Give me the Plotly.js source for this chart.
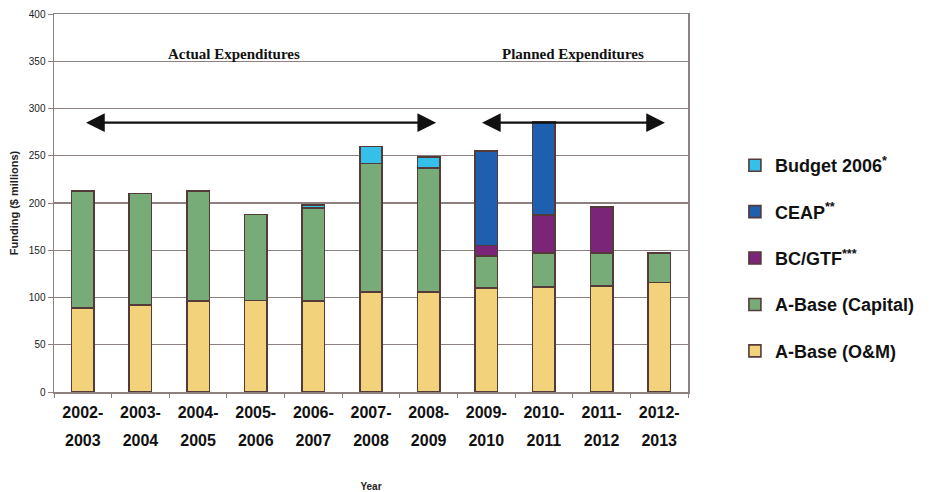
<!DOCTYPE html>
<html>
<head>
<meta charset="utf-8">
<script src="https://cdn.plot.ly/plotly-3.0.1.min.js"></script>
<style>html,body{margin:0;padding:0;background:#fff;}#chart{width:932px;height:492px;}</style>
</head>
<body>
<div id="chart"></div>
<script>
// ---- data ----
const years = ['2002-2003','2003-2004','2004-2005','2005-2006','2006-2007','2007-2008','2008-2009','2009-2010','2010-2011','2011-2012','2012-2013'];
const startLabels = ['2002-','2003-','2004-','2005-','2006-','2007-','2008-','2009-','2010-','2011-','2012-'];
const endLabels = ['2003','2004','2005','2006','2007','2008','2009','2010','2011','2012','2013'];
const aBaseOM = [89, 92, 96, 97, 96, 106, 106, 110, 111, 112, 116];
const aBaseCapital = [124, 118, 117, 91, 99, 136, 131, 34, 36, 35, 31];
const bcGtf = [null, null, null, null, null, null, null, 11, 40, 49, null];
const ceap = [null, null, null, null, null, null, null, 100, 99, null, null];
const budget2006 = [null, null, null, null, 3, 18, 12, null, null, null, null];
const seriesNames = ['A-Base (O&M)', 'A-Base (Capital)', 'BC/GTF<sup>***</sup>', 'CEAP<sup>**</sup>', 'Budget 2006<sup>*</sup>'];
const seriesColors = ['#F3D27C', '#77AB77', '#7A2578', '#1F5FB0', '#35C0EA'];
const seriesValues = [aBaseOM, aBaseCapital, bcGtf, ceap, budget2006];

const outline = '#553a3a';
const grid = '#8f8080';

const traces = seriesValues.map((vals, i) => ({
  type: 'bar',
  x: years,
  y: vals,
  name: seriesNames[i],
  legendgroup: 'g' + i,
  legendrank: seriesValues.length - i,
  marker: {color: seriesColors[i], line: {color: outline, width: 1.6}},
  width: 0.39,
  hoverinfo: 'x+y+name'
}));
// invisible helper trace for second line of tick labels
traces.push({type: 'bar', x: years, y: years.map(() => null), xaxis: 'x2', yaxis: 'y', showlegend: false, hoverinfo: 'skip'});

const tickFont = {size: 16, family: 'Arial, Liberation Sans, sans-serif', weight: 'bold', color: '#111'};

const layout = {
  width: 932, height: 492,
  margin: {l: 54, r: 235, t: 14, b: 100},
  paper_bgcolor: '#fff', plot_bgcolor: '#fff',
  barmode: 'stack',
  showlegend: true,
  font: {family: 'Arial, Liberation Sans, sans-serif', color: '#111'},
  xaxis: {
    type: 'category',
    categoryarray: years,
    tickmode: 'array', tickvals: years, ticktext: startLabels,
    tickfont: tickFont, ticklabelstandoff: 5,
    ticks: 'outside', tickson: 'boundaries', ticklen: 4, tickcolor: grid,
    showline: true, linecolor: grid, linewidth: 1.5, mirror: true,
    showgrid: false, zeroline: false,
    title: {text: 'Year', font: {size: 10, weight: 'bold', color: '#222'}, standoff: 68}
  },
  xaxis2: {
    type: 'category', overlaying: 'x', anchor: 'y', side: 'bottom', matches: 'x',
    categoryarray: years,
    tickmode: 'array', tickvals: years, ticktext: endLabels,
    tickfont: tickFont,
    ticks: '', showline: false, showgrid: false, zeroline: false,
    ticklabelstandoff: 37
  },
  yaxis: {
    range: [0, 400], dtick: 50,
    tickfont: {size: 10, color: '#222'},
    ticks: 'outside', ticklen: 5, tickcolor: grid,
    showgrid: true, gridcolor: grid, gridwidth: 1.2,
    showline: true, linecolor: grid, linewidth: 1.5, mirror: true,
    zeroline: false,
    title: {text: 'Funding ($ millions)', font: {size: 11, weight: 'bold', color: '#222'}, standoff: 8}
  },
  legend: {
    x: 1.074, y: 0.648, xanchor: 'left', yanchor: 'top',
    traceorder: 'grouped', tracegroupgap: 20,
    font: {size: 18, weight: 'bold', color: '#111'},
    bgcolor: 'rgba(0,0,0,0)'
  },
  annotations: [
    {x: 2.63, y: 358, xref: 'x', yref: 'y', text: 'Actual Expenditures', showarrow: false,
     font: {family: 'Liberation Serif, Times New Roman, serif', size: 15, weight: 'bold', color: '#111'}},
    {x: 8.5, y: 358, xref: 'x', yref: 'y', text: 'Planned Expenditures', showarrow: false,
     font: {family: 'Liberation Serif, Times New Roman, serif', size: 15, weight: 'bold', color: '#111'}},
    {x: 6.13, y: 285, ax: 0.03, ay: 285, xref: 'x', yref: 'y', axref: 'x', ayref: 'y', text: '',
     showarrow: true, arrowhead: 2, startarrowhead: 2, arrowside: 'end+start', arrowsize: 1.7, startarrowsize: 1.7, arrowwidth: 2.2, arrowcolor: '#111'},
    {x: 10.1, y: 285, ax: 6.9, ay: 285, xref: 'x', yref: 'y', axref: 'x', ayref: 'y', text: '',
     showarrow: true, arrowhead: 2, startarrowhead: 2, arrowside: 'end+start', arrowsize: 1.7, startarrowsize: 1.7, arrowwidth: 2.2, arrowcolor: '#111'}
  ]
};

Plotly.newPlot('chart', traces, layout, {displayModeBar: false, staticPlot: true});
</script>
</body>
</html>
